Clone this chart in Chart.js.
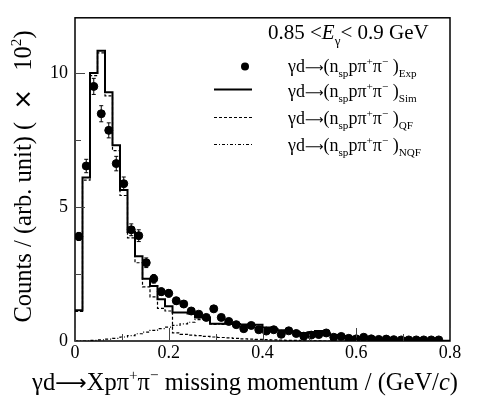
<!DOCTYPE html>
<html>
<head>
<meta charset="utf-8">
<script src="https://cdn.jsdelivr.net/npm/chart.js@4.4.1/dist/chart.umd.min.js"></script>
<style>
  html, body { margin: 0; padding: 0; background: #fff; }
  #wrap { width: 481px; height: 404px; }
</style>
</head>
<body>
<div id="wrap"><canvas id="c" width="481" height="404"></canvas></div>
<script>
// Histogram binning of the missing momentum (GeV/c)
const BIN_WIDTH = 0.016;
const N_BINS = 50;
const binLowEdges = Array.from({ length: N_BINS + 1 }, (_, i) => +(i * BIN_WIDTH).toFixed(3));
const binCenters = Array.from({ length: N_BINS }, (_, i) => +((i + 0.5) * BIN_WIDTH).toFixed(3));

// Measured spectrum (x10^2 counts) and statistical errors
const expCounts = [
  3.90, 6.53, 9.50, 8.48, 7.86, 6.62, 5.87, 4.15, 3.93, 2.92,
  2.32, 1.84, 1.78, 1.50, 1.38, 1.12, 1.00, 0.88, 1.20, 0.88,
  0.73, 0.61, 0.46, 0.58, 0.42, 0.37, 0.42, 0.25, 0.38, 0.28,
  0.18, 0.22, 0.24, 0.30, 0.14, 0.17, 0.10, 0.08, 0.14, 0.08,
  0.06, 0.07, 0.05, 0.04, 0.04, 0.04, 0.04, 0.04, 0.04
];
const expErrors = [
  0.15, 0.25, 0.30, 0.30, 0.28, 0.27, 0.25, 0.22, 0.22, 0.18,
  0.16, 0.14, 0.14, 0.13, 0.12, 0.11, 0.10, 0.10, 0.11, 0.10,
  0.09, 0.08, 0.07, 0.08, 0.07, 0.06, 0.07, 0.05, 0.06, 0.05,
  0.05, 0.05, 0.05, 0.05, 0.04, 0.04, 0.04, 0.03, 0.04, 0.03,
  0.03, 0.03, 0.03, 0.02, 0.02, 0.02, 0.02, 0.02, 0.02
];

// Simulated spectra: total, quasi-free and non-quasi-free
const simCounts = [
  1.15, 6.10, 10.00, 10.83, 9.28, 7.30, 5.63, 4.07, 3.16, 2.32,
  2.05, 1.56, 1.30, 1.06, 1.06, 1.03, 0.88, 0.88, 0.64, 0.64,
  0.66, 0.63, 0.62, 0.60, 0.61, 0.50, 0.45, 0.40, 0.36, 0.33,
  0.30, 0.33, 0.37, 0.28, 0.22, 0.19, 0.15, 0.12, 0.10, 0.08,
  0.06, 0.05, 0.04, 0.03, 0.02, 0.02, 0.01, 0.01, 0.01, 0.01
];
const qfCounts = [
  1.10, 6.00, 9.90, 10.75, 9.15, 7.10, 5.43, 3.85, 2.92, 2.02,
  1.65, 1.22, 1.12, 0.30, 0.25, 0.22, 0.20, 0.17, 0.15, 0.13,
  0.12, 0.10, 0.08, 0.07, 0.06, 0.05, 0.04, 0.03, 0.02, 0.02,
  0.01, 0.01, 0.01, 0.00, 0.00, 0.00, 0.00, 0.00, 0.00, 0.00,
  0.00, 0.00, 0.00, 0.00, 0.00, 0.00, 0.00, 0.00, 0.00, 0.00
];
const nqfCounts = [
  0.00, 0.00, 0.02, 0.04, 0.07, 0.10, 0.15, 0.20, 0.27, 0.33,
  0.40, 0.46, 0.52, 0.58, 0.64, 0.70, 0.80, 0.86, 0.62, 0.62,
  0.62, 0.60, 0.58, 0.56, 0.55, 0.46, 0.42, 0.38, 0.34, 0.31,
  0.29, 0.32, 0.36, 0.28, 0.22, 0.19, 0.15, 0.12, 0.10, 0.08,
  0.06, 0.05, 0.04, 0.03, 0.02, 0.02, 0.01, 0.01, 0.01, 0.01
];

// Axis ticks
const xTickValues = [0, 0.2, 0.4, 0.6, 0.8];
const xMinorTicks = [0.1, 0.3, 0.5, 0.7];
const yTickValues = [0, 5, 10];
const yMinorTicks = [2.5, 7.5];

const SERIF = "'Liberation Serif', 'Times New Roman', 'DejaVu Serif', serif";
const SYMBOL_FONT = "'DejaVu Sans', sans-serif";

// Step outline: one point per lower bin edge, plus the upper edge of the last bin
function histPoints(values) {
  const pts = values.map((v, i) => ({ x: binLowEdges[i], y: v }));
  pts.push({ x: binLowEdges[values.length], y: values[values.length - 1] });
  return pts;
}

// Draw a run of text pieces with sub/superscripts, italics and symbol glyphs
function richParts(parts, size, symScale) {
  return parts.map(p => {
    const [text, kind] = Array.isArray(p) ? p : [p, ''];
    let fs = size, dy = 0, style = '', fam = SERIF;
    if (kind === 'sub') { fs = size * 0.62; dy = size * 0.30; }
    if (kind === 'sup') { fs = size * 0.62; dy = -size * 0.40; }
    if (kind === 'i') { style = 'italic '; }
    if (kind === 'sym') { fam = SYMBOL_FONT; fs = size * symScale; }
    return { text, font: style + fs + 'px ' + fam, dy };
  });
}
function drawRich(ctx, x, y, parts, size, align, symScale = 0.9) {
  const items = richParts(parts, size, symScale);
  let total = 0;
  items.forEach(it => { ctx.font = it.font; it.w = ctx.measureText(it.text).width; total += it.w; });
  let cx = align === 'center' ? x - total / 2 : (align === 'right' ? x - total : x);
  ctx.textBaseline = 'alphabetic';
  ctx.textAlign = 'left';
  items.forEach(it => { ctx.font = it.font; ctx.fillText(it.text, cx, y + it.dy); cx += it.w; });
  return total;
}

const frameTicks = {
  id: 'frameTicks',
  afterDatasetsDraw(chart) {
    const { ctx, chartArea: a, scales: { x, y } } = chart;
    ctx.save();
    ctx.strokeStyle = '#000';
    ctx.lineWidth = 1.5;
    ctx.strokeRect(a.left, a.top, a.right - a.left, a.bottom - a.top);
    ctx.strokeStyle = '#444';
    ctx.lineWidth = 1;
    const tick = (x1, y1, x2, y2) => { ctx.beginPath(); ctx.moveTo(x1, y1); ctx.lineTo(x2, y2); ctx.stroke(); };
    xTickValues.forEach(v => { const px = Math.round(x.getPixelForValue(v)) + 0.5; tick(px, a.bottom, px, a.bottom - 13); });
    xMinorTicks.forEach(v => { const px = Math.round(x.getPixelForValue(v)) + 0.5; tick(px, a.bottom, px, a.bottom - 7); });
    yTickValues.forEach(v => { const py = Math.round(y.getPixelForValue(v)) + 0.5; tick(a.left, py, a.left + 10, py); });
    yMinorTicks.forEach(v => { const py = Math.round(y.getPixelForValue(v)) + 0.5; tick(a.left, py, a.left + 6, py); });
    ctx.restore();
  }
};

const errorBars = {
  id: 'errorBars',
  afterDatasetsDraw(chart) {
    const { ctx, scales: { x, y } } = chart;
    ctx.save();
    ctx.strokeStyle = '#000';
    ctx.lineWidth = 1;
    expCounts.forEach((v, i) => {
      const px = x.getPixelForValue(binCenters[i]);
      const lo = y.getPixelForValue(Math.max(0, v - expErrors[i]));
      const hi = y.getPixelForValue(v + expErrors[i]);
      ctx.beginPath();
      ctx.moveTo(px, lo); ctx.lineTo(px, hi);
      ctx.moveTo(px - 2, lo); ctx.lineTo(px + 2, lo);
      ctx.moveTo(px - 2, hi); ctx.lineTo(px + 2, hi);
      ctx.stroke();
    });
    ctx.restore();
  }
};

const labels = {
  id: 'labels',
  afterDraw(chart) {
    const { ctx } = chart;
    ctx.save();
    ctx.fillStyle = '#000';

    // x-axis title
    drawRich(ctx, 245, 390, [
      'γd', ['\u27F6', 'sym'], 'Xpπ', ['+', 'sup'], 'π', ['\u2212', 'sup'],
      ' missing momentum / (GeV/', ['c', 'i'], ')'
    ], 24.5, 'center');

    // y-axis title
    ctx.save();
    ctx.translate(31, 176.5);
    ctx.rotate(-Math.PI / 2);
    drawRich(ctx, 0, 0, ['Counts / (arb. unit) (\u2002', ['\u00D7', 'sym'], '\u2002 10', ['2', 'sup'], ')'], 24.5, 'center', 1.0);
    ctx.restore();

    // energy bin caption
    drawRich(ctx, 268, 39, ['0.85 <', ['E', 'i'], ['γ', 'sub'], '< 0.9 GeV'], 21, 'left');

    // legend
    const entryText = tag => ['γd', ['\u27F6', 'sym'], '(n', ['sp', 'sub'], 'pπ', ['+', 'sup'], 'π', ['\u2212', 'sup'], ' )', [tag, 'sub']];
    const rows = [
      { base: 72, tag: 'Exp', mark: 'dot', my: 66.5 },
      { base: 97, tag: 'Sim', mark: [], my: 89.5 },
      { base: 124, tag: 'QF', mark: [3, 2], my: 117.5 },
      { base: 151, tag: 'NQF', mark: [3, 2, 1, 2], my: 144.5 }
    ];
    rows.forEach(r => {
      drawRich(ctx, 288, r.base, entryText(r.tag), 18, 'left', 0.72);
      if (r.mark === 'dot') {
        ctx.beginPath();
        ctx.arc(245, r.my, 4, 0, Math.PI * 2);
        ctx.fill();
      } else {
        ctx.save();
        ctx.strokeStyle = '#000';
        ctx.lineWidth = r.mark.length ? 1 : 2;
        ctx.setLineDash(r.mark);
        ctx.beginPath();
        ctx.moveTo(214, r.my); ctx.lineTo(252, r.my);
        ctx.stroke();
        ctx.restore();
      }
    });
    ctx.restore();
  }
};

new Chart(document.getElementById('c'), {
  type: 'line',
  data: {
    datasets: [
      {
        label: 'Exp',
        type: 'scatter',
        data: expCounts.map((v, i) => ({ x: binCenters[i], y: v })),
        backgroundColor: '#000',
        borderColor: '#000',
        pointRadius: 4,
        pointHoverRadius: 4,
        showLine: false
      },
      {
        label: 'Sim',
        data: histPoints(simCounts),
        stepped: true,
        borderColor: '#000',
        borderWidth: 2,
        pointRadius: 0,
        fill: false
      },
      {
        label: 'QF',
        data: histPoints(qfCounts),
        stepped: true,
        borderColor: '#000',
        borderWidth: 1.2,
        borderDash: [3, 2],
        pointRadius: 0,
        fill: false
      },
      {
        label: 'NQF',
        data: histPoints(nqfCounts),
        stepped: true,
        borderColor: '#000',
        borderWidth: 1.2,
        borderDash: [3, 2, 1, 2],
        pointRadius: 0,
        fill: false
      }
    ]
  },
  options: {
    responsive: false,
    animation: false,
    devicePixelRatio: 1,
    layout: { padding: { left: 0, top: 7, right: 31, bottom: 0 } },
    plugins: { legend: { display: false }, tooltip: { enabled: false } },
    scales: {
      x: {
        type: 'linear',
        min: 0,
        max: 0.8,
        grid: { display: false, drawTicks: false },
        border: { display: false },
        afterBuildTicks: s => { s.ticks = xTickValues.map(v => ({ value: v })); },
        afterFit: s => { s.height = 63; },
        ticks: {
          padding: 1,
          maxRotation: 0,
          color: '#000',
          font: { family: SERIF, size: 18 },
          callback: v => (v === 0 ? '0' : v.toFixed(1))
        }
      },
      y: {
        type: 'linear',
        min: 0,
        max: 12.06,
        grid: { display: false, drawTicks: false },
        border: { display: false },
        afterBuildTicks: s => { s.ticks = yTickValues.map(v => ({ value: v })); },
        afterFit: s => { s.width = 75; },
        ticks: {
          padding: 7,
          color: '#000',
          font: { family: SERIF, size: 18 },
          callback: v => String(v)
        }
      }
    }
  },
  plugins: [frameTicks, errorBars, labels]
});
</script>
</body>
</html>
